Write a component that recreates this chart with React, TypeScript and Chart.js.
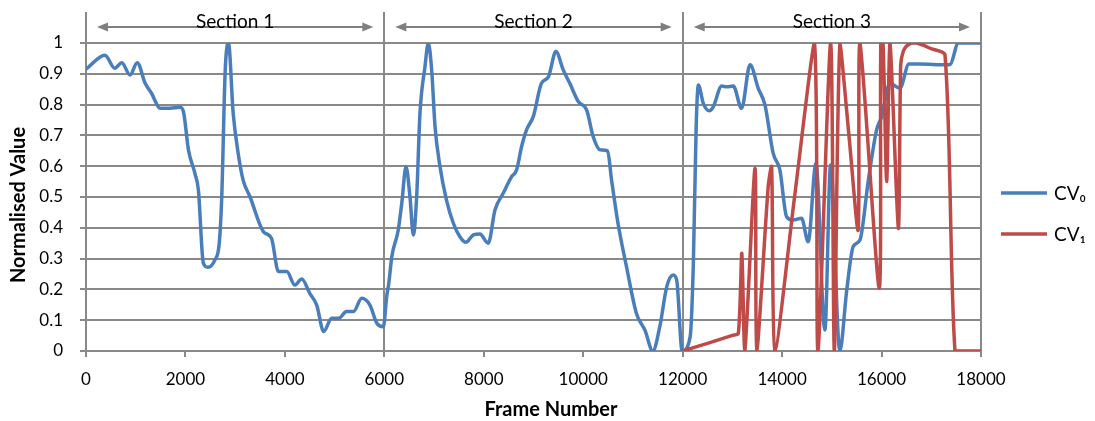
import React, { useEffect, useRef } from "react";
import { Chart, registerables } from "chart.js";

Chart.register(...registerables);

// ---------- data ----------
const cv0Frames = [
  0, 380, 580, 720, 885, 1030, 1190, 1320, 1490, 1690, 1890, 1960, 2060, 2190, 2260, 2360, 2450, 2590, 2680, 2730,
  2800, 2865, 2960, 3060, 3160, 3300, 3570, 3730, 3870, 4040, 4200, 4340, 4500, 4640, 4780, 4940, 5080, 5240, 5380,
  5545, 5710, 5850, 5980, 6050, 6090, 6150, 6280, 6350, 6436, 6516, 6583, 6650, 6717, 6817, 6885, 6952, 7020, 7120,
  7250, 7390, 7520, 7640, 7790, 7920, 8090, 8225, 8390, 8560, 8660, 8760, 8860, 8995, 9160, 9300, 9450, 9600, 9730,
  9900, 10070, 10200, 10340, 10490, 10570, 10700, 10870, 11070, 11240, 11400, 11540, 11680, 11810, 11880, 11990,
  12150, 12215, 12270, 12315, 12415, 12535, 12615, 12785, 12885, 13020, 13185, 13355, 13520, 13655, 13820, 13955,
  14090, 14225, 14390, 14525, 14680, 14860, 14975, 15160, 15300, 15430, 15565, 15735, 15900, 16000, 16170, 16370,
  16550, 16770, 17310, 17380, 17545, 18000,
];
const cv0Values = [
  0.915, 0.96, 0.918, 0.936, 0.896, 0.936, 0.869, 0.836, 0.788, 0.788, 0.791, 0.777, 0.653, 0.577, 0.523, 0.285,
  0.272, 0.295, 0.35, 0.5, 0.912, 1.0, 0.772, 0.642, 0.555, 0.5, 0.387, 0.366, 0.258, 0.258, 0.214, 0.234, 0.187,
  0.149, 0.063, 0.106, 0.106, 0.128, 0.128, 0.171, 0.149, 0.09, 0.079, 0.18, 0.22, 0.306, 0.393, 0.479, 0.598, 0.5,
  0.377, 0.5, 0.772, 0.923, 1.0, 0.912, 0.728, 0.598, 0.49, 0.414, 0.371, 0.353, 0.377, 0.38, 0.35, 0.458, 0.512,
  0.566, 0.588, 0.663, 0.718, 0.761, 0.869, 0.89, 0.972, 0.912, 0.869, 0.81, 0.782, 0.696, 0.653, 0.65, 0.555, 0.414,
  0.274, 0.122, 0.068, 0.0, 0.079, 0.209, 0.247, 0.23, 0.0, 0.046, 0.285, 0.718, 0.864, 0.804, 0.78, 0.793, 0.86,
  0.858, 0.86, 0.788, 0.929, 0.853, 0.799, 0.642, 0.588, 0.436, 0.425, 0.431, 0.355, 0.609, 0.068, 0.604, 0.0, 0.198,
  0.339, 0.36, 0.555, 0.718, 0.76, 0.869, 0.853, 0.932, 0.932, 0.929, 0.93, 1.0, 1.0,
];

const cv1Frames = [
  12000, 12500, 13000, 13120, 13190, 13250, 13455, 13490, 13720, 13789, 13856, 14250, 14650, 14720, 14976, 15050,
  15163, 15350, 15530, 15565, 15953, 15985, 16030, 16103, 16170, 16338, 16385, 16440, 16505, 16600, 16706, 16850,
  16974, 17276, 17477, 17700, 18000,
];
const cv1Values = [
  0, 0.025, 0.051, 0.057, 0.317, 0, 0.593, 0, 0.533, 0.598, 0, 0.5, 1, 0, 1, 0, 1, 0.69, 0.393, 1, 0.204, 1, 1, 0.55,
  1, 0.398, 0.93, 0.975, 0.99, 1.0, 1.0, 0.992, 0.983, 0.961, 0, 0, 0,
];

const seriesLabels = ["CV₀", "CV₁"];
const xTickValues = [0, 2000, 4000, 6000, 8000, 10000, 12000, 14000, 16000, 18000];
const yTickValues = [0, 0.1, 0.2, 0.3, 0.4, 0.5, 0.6, 0.7, 0.8, 0.9, 1];
const yTickLabels = ["0", "0.1", "0.2", "0.3", "0.4", "0.5", "0.6", "0.7", "0.8", "0.9", "1"];
const sectionBounds = [0, 6000, 12000, 18000];
const sectionLabels = ["Section 1", "Section 2", "Section 3"];
const xTitle = "Frame Number";
const yTitle = "Normalised Value";

// ---------- styles ----------
const BLUE = "#4a7ebb";
const RED = "#be4b48";
const GRID = "#898989";
const ARROW = "#7f7f7f";
const FONT = "Lato, 'Open Sans', sans-serif";

const sectionPlugin = {
  id: "sections",
  beforeDatasetsDraw(chart: any) {
    const { ctx, chartArea, scales } = chart;
    const x = scales.x;
    ctx.save();
    ctx.strokeStyle = GRID;
    ctx.lineWidth = 2;
    sectionBounds.forEach((b) => {
      const px = Math.round(x.getPixelForValue(b));
      ctx.beginPath();
      ctx.moveTo(px, chartArea.top - 31);
      ctx.lineTo(px, chartArea.bottom);
      ctx.stroke();
    });
    ctx.restore();
  },
  afterDraw(chart: any) {
    const { ctx, chartArea, scales } = chart;
    const x = scales.x;
    const ay = chartArea.top - 16;
    ctx.save();
    for (let i = 0; i < sectionLabels.length; i++) {
      const x0 = x.getPixelForValue(sectionBounds[i]) + 11;
      const x1 = x.getPixelForValue(sectionBounds[i + 1]) - 11;
      ctx.strokeStyle = ARROW;
      ctx.fillStyle = ARROW;
      ctx.lineWidth = 2;
      ctx.beginPath();
      ctx.moveTo(x0 + 8, ay);
      ctx.lineTo(x1 - 8, ay);
      ctx.stroke();
      ctx.beginPath();
      ctx.moveTo(x0, ay);
      ctx.lineTo(x0 + 11, ay - 4.5);
      ctx.lineTo(x0 + 11, ay + 4.5);
      ctx.closePath();
      ctx.fill();
      ctx.beginPath();
      ctx.moveTo(x1, ay);
      ctx.lineTo(x1 - 11, ay - 4.5);
      ctx.lineTo(x1 - 11, ay + 4.5);
      ctx.closePath();
      ctx.fill();
      ctx.fillStyle = "#000";
      ctx.font = `19px ${FONT}`;
      ctx.textAlign = "center";
      ctx.textBaseline = "alphabetic";
      const cx = (x.getPixelForValue(sectionBounds[i]) + x.getPixelForValue(sectionBounds[i + 1])) / 2;
      ctx.fillText(sectionLabels[i], cx, chartArea.top - 15);
    }
    // axis titles
    ctx.fillStyle = "#000";
    ctx.font = `bold 20px ${FONT}`;
    ctx.textAlign = "center";
    ctx.textBaseline = "middle";
    ctx.fillText(xTitle, 551, 410);
    ctx.translate(19, 205);
    ctx.rotate(-Math.PI / 2);
    ctx.fillText(yTitle, 0, 0);
    ctx.restore();
  },
};

const legendPlugin = {
  id: "customLegend",
  afterDraw(chart: any) {
    const { ctx, chartArea } = chart;
    const order = [1, 0];
    ctx.save();
    order.forEach((di, k) => {
      const ds = chart.data.datasets[di];
      const y = 193 + k * 41;
      const lx = chartArea.right + 20;
      ctx.strokeStyle = ds.borderColor;
      ctx.lineWidth = 3.5;
      ctx.beginPath();
      ctx.moveTo(lx, y);
      ctx.lineTo(lx + 46, y);
      ctx.stroke();
      ctx.fillStyle = "#000";
      ctx.font = `19px ${FONT}`;
      ctx.textAlign = "left";
      ctx.textBaseline = "alphabetic";
      ctx.fillText(ds.label, lx + 53, y + 7);
    });
    ctx.restore();
  },
};

export default function App() {
  const ref = useRef<HTMLCanvasElement | null>(null);

  useEffect(() => {
    if (!ref.current) return;
    const chart = new Chart(ref.current, {
      type: "line",
      data: {
        datasets: [
          {
            label: seriesLabels[1],
            data: cv1Frames.map((f, i) => ({ x: f, y: cv1Values[i] })),
            borderColor: RED,
            backgroundColor: RED,
            borderWidth: 3.5,
            borderJoinStyle: "round",
            pointRadius: 0,
            tension: 0.25,
            fill: false,
            order: 0,
          },
          {
            label: seriesLabels[0],
            data: cv0Frames.map((f, i) => ({ x: f, y: cv0Values[i] })),
            borderColor: BLUE,
            backgroundColor: BLUE,
            borderWidth: 3.5,
            borderJoinStyle: "round",
            pointRadius: 0,
            cubicInterpolationMode: "monotone",
            fill: false,
            order: 1,
          },
        ],
      },
      options: {
        animation: false,
        responsive: false,
        maintainAspectRatio: false,
        layout: { padding: { left: 0, right: 114, top: 43, bottom: 0 } },
        plugins: { legend: { display: false }, tooltip: { enabled: false } },
        scales: {
          x: {
            type: "linear",
            min: 0,
            max: 18000,
            afterBuildTicks: (s: any) => {
              s.ticks = xTickValues.map((v) => ({ value: v }));
            },
            afterFit: (s: any) => {
              s.height = 70;
            },
            ticks: {
              autoSkip: false,
              maxRotation: 0,
              padding: 12,
              color: "#000",
              font: { family: FONT, size: 17 },
              callback: (v: any) => String(v),
            },
            grid: { drawOnChartArea: false, tickLength: 6, color: GRID, lineWidth: 2 },
            border: { color: GRID, width: 2 },
            title: { display: false },
          },
          y: {
            type: "linear",
            min: 0,
            max: 1,
            afterBuildTicks: (s: any) => {
              s.ticks = yTickValues.map((v) => ({ value: v }));
            },
            afterFit: (s: any) => {
              s.width = 86;
            },
            ticks: {
              padding: 17,
              color: "#000",
              font: { family: FONT, size: 17 },
              callback: (_v: any, i: number) => yTickLabels[i],
            },
            grid: { color: GRID, lineWidth: 2, tickLength: 6 },
            border: { color: GRID, width: 2 },
            title: { display: false },
          },
        },
      },
      plugins: [sectionPlugin, legendPlugin],
    } as any);
    return () => chart.destroy();
  }, []);

  return (
    <div style={{ position: "fixed", left: 0, top: 0, width: 1095, height: 421, background: "#fff" }}>
      <canvas ref={ref} width={1095} height={421} style={{ display: "block", width: 1095, height: 421 }} />
    </div>
  );
}
